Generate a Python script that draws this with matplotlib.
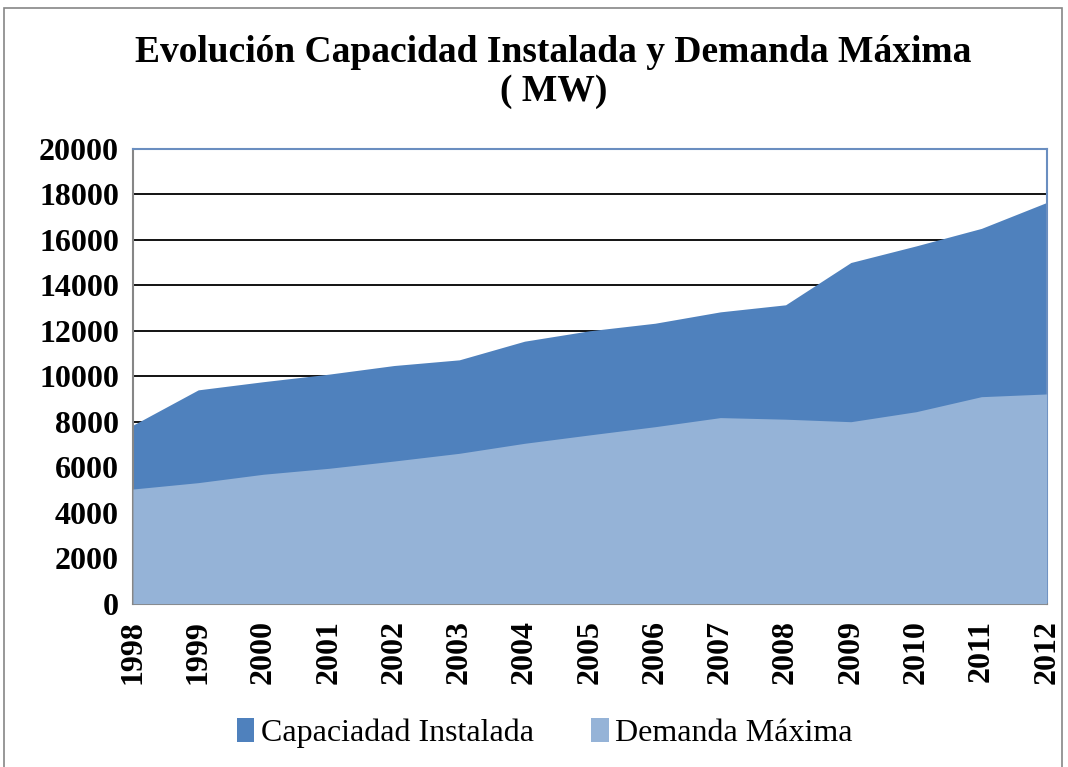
import matplotlib.pyplot as plt
import numpy as np
from matplotlib.patches import Rectangle

# Evolución de la capacidad instalada y demanda máxima (MW)
years = [1998, 1999, 2000, 2001, 2002, 2003, 2004, 2005,
         2006, 2007, 2008, 2009, 2010, 2011, 2012]
capacidad = [7850, 9400, 9760, 10090, 10470, 10720, 11540, 12000,
             12330, 12830, 13140, 15000, 15730, 16500, 17640]
demanda = [5040, 5320, 5690, 5950, 6270, 6610, 7050, 7420,
           7780, 8180, 8110, 8000, 8440, 9100, 9220]

plt.rcParams['font.family'] = ['Liberation Serif', 'DejaVu Serif']

fig = plt.figure(figsize=(10.68, 7.67), dpi=100)
ax = fig.add_axes([0.1245, 0.213, 0.8555, 0.593])

x = np.arange(len(years))
ax.fill_between(x, 0, capacidad, color="#4F81BD", lw=0, label="Capaciadad Instalada", zorder=2)
ax.fill_between(x, 0, demanda, color="#95B3D7", lw=0, label="Demanda Máxima", zorder=3)

ax.set_xlim(0, len(years) - 1)
ax.set_ylim(0, 20000)
ax.set_yticks(range(0, 20001, 2000))
ax.yaxis.grid(True, color="black", lw=1.3, zorder=1)
ax.set_axisbelow(True)
ax.tick_params(axis="y", length=0, pad=10, labelsize=23)
ax.tick_params(axis="x", length=0, pad=12, labelsize=23)
for lab in ax.get_yticklabels():
    lab.set_fontweight("bold")
ax.set_xticks(x)
ax.set_xticklabels([str(y) for y in years], rotation=90, fontweight="bold")

for side in ["left", "bottom"]:
    ax.spines[side].set_color("#868686")
    ax.spines[side].set_linewidth(1.5)
for side in ["top", "right"]:
    ax.spines[side].set_color("#6A8EC0")
    ax.spines[side].set_linewidth(1.5)

fig.text(0.518, 0.906, "Evolución Capacidad Instalada y Demanda Máxima\n( MW)",
         ha="center", va="center", fontsize=27, fontweight="bold", linespacing=1.15)

fig.legend(loc="center", bbox_to_anchor=(0.51, 0.044), ncol=2, frameon=False,
           fontsize=23, handlelength=0.55, handleheight=0.75, handletextpad=0.2,
           columnspacing=1.8)

fig.patches.append(Rectangle((4 / 1068, -0.01), 1058 / 1068, 0.999, transform=fig.transFigure,
                             fill=False, edgecolor="#868686", lw=1.2))

fig.savefig("out.png", dpi=100)
